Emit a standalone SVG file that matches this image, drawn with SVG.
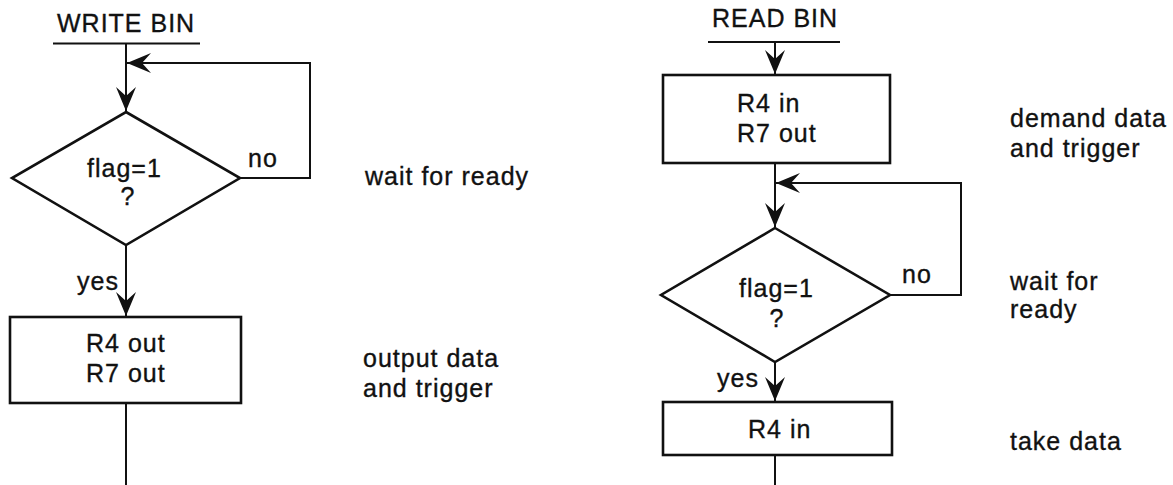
<svg xmlns="http://www.w3.org/2000/svg" width="1173" height="485" viewBox="0 0 1173 485">
  <style>
    text { font-family: "Liberation Sans", Arial, sans-serif; font-size: 25px; letter-spacing: 1px; fill: #111; stroke: #111; stroke-width: 0.35; }
    .mid { text-anchor: middle; }
    .shape { fill: #fff; stroke: #111; stroke-width: 2.6; }
    .line { fill: none; stroke: #111; stroke-width: 2; }
    .arrow { marker-end: url(#head); }
  </style>
  <defs>
    <marker id="head" markerUnits="userSpaceOnUse" markerWidth="30" markerHeight="24" viewBox="-25 -12 27 24" refX="0" refY="0" orient="auto">
      <path d="M0,0 L-24,-10 L-15,0 L-24,10 Z" fill="#111"/>
    </marker>
  </defs>
  <rect width="1173" height="485" fill="#fff"/>

  <!-- connectors -->
  <g id="connectors">
    <!-- WRITE BIN -->
    <line class="line" x1="53" y1="43.5" x2="200" y2="43.5"/>
    <line class="line arrow" x1="126" y1="43.5" x2="126" y2="111"/>
    <polyline class="line arrow" points="240,178 310,178 310,63 127,63"/>
    <line class="line arrow" x1="126" y1="245" x2="126" y2="316"/>
    <line class="line" x1="126" y1="403" x2="126" y2="485"/>
    <!-- READ BIN -->
    <line class="line" x1="708" y1="42" x2="840" y2="42"/>
    <line class="line arrow" x1="775" y1="42" x2="775" y2="74"/>
    <line class="line arrow" x1="775" y1="163" x2="775" y2="227"/>
    <polyline class="line arrow" points="890,295 961,295 961,183 776,183"/>
    <line class="line arrow" x1="775" y1="362" x2="775" y2="401"/>
    <line class="line" x1="775" y1="455" x2="775" y2="485"/>
  </g>

  <!-- WRITE BIN routine -->
  <g id="write-title">
    <text x="57" y="32">WRITE BIN</text>
  </g>
  <g id="write-test">
    <polygon class="shape" points="126,112 240,178 126,245 12,178"/>
    <text x="87" y="177">flag=1</text>
    <text class="mid" x="128" y="205">?</text>
  </g>
  <g id="write-labels">
    <text x="248" y="167">no</text>
    <text x="77" y="290">yes</text>
  </g>
  <g id="write-output">
    <rect class="shape" x="10" y="317" width="231" height="86"/>
    <text x="86" y="352">R4 out</text>
    <text x="86" y="382">R7 out</text>
  </g>
  <g id="write-notes">
    <text x="365" y="185">wait for ready</text>
    <text x="363" y="367">output data</text>
    <text x="363" y="397">and trigger</text>
  </g>

  <!-- READ BIN routine -->
  <g id="read-title">
    <text x="712" y="27">READ BIN</text>
  </g>
  <g id="read-demand">
    <rect class="shape" x="663" y="75" width="227" height="88"/>
    <text x="737" y="112">R4 in</text>
    <text x="737" y="142">R7 out</text>
  </g>
  <g id="read-test">
    <polygon class="shape" points="775,228 890,295 775,362 661,295"/>
    <text x="739" y="297">flag=1</text>
    <text class="mid" x="777" y="327">?</text>
  </g>
  <g id="read-labels">
    <text x="902" y="283">no</text>
    <text x="717" y="387">yes</text>
  </g>
  <g id="read-take">
    <rect class="shape" x="663" y="402" width="229" height="53"/>
    <text x="748" y="438">R4 in</text>
  </g>
  <g id="read-notes">
    <text x="1010" y="127">demand data</text>
    <text x="1010" y="157">and trigger</text>
    <text x="1010" y="290">wait for</text>
    <text x="1010" y="318">ready</text>
    <text x="1010" y="450">take data</text>
  </g>
</svg>
